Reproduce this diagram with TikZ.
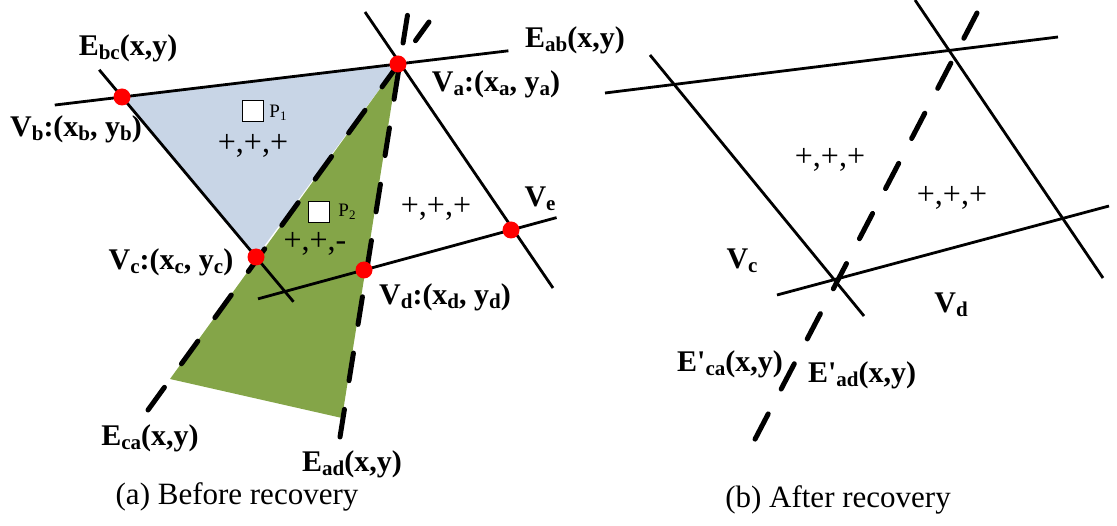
\documentclass[tikz,border=0pt]{standalone}
\usepackage{fontspec}
\setmainfont{Liberation Serif}
\usetikzlibrary{calc}
\definecolor{triblue}{HTML}{C8D5E6}
\definecolor{trigreen}{HTML}{84A548}
\definecolor{dotred}{HTML}{FF0000}
\newcommand{\lsub}[1]{\raisebox{-4pt}{\fontsize{21}{21}\selectfont #1}}
\newcommand{\psub}[1]{\raisebox{-3pt}{\fontsize{13}{13}\selectfont #1}}
\tikzset{
  solidline/.style={line width=2.8pt},
  dashline/.style={line width=5pt, line cap=round, dash pattern=on 28pt off 29pt},
  dashlineb/.style={line width=5pt, line cap=round, dash pattern=on 28.5pt off 28pt},
  vdot/.style={circle, fill=dotred, minimum size=17pt, inner sep=0},
  lab/.style={font=\fontsize{30}{30}\selectfont\bfseries, inner sep=0},
  sign/.style={font=\fontsize{32}{32}\selectfont, inner sep=0},
  plab/.style={font=\fontsize{19}{19}\selectfont, inner sep=0},
  psq/.style={draw, fill=white, line width=1pt, minimum size=21pt, inner sep=0},
  captext/.style={font=\fontsize{31}{31}\selectfont, inner sep=0}
}
\begin{document}
\begin{tikzpicture}[x=1pt, y=-1pt]
\useasboundingbox (0,0) rectangle (1117,526);
% ---------- (a) before recovery ----------
\coordinate (Va) at (398,64);
\coordinate (Vb) at (122,97);
\coordinate (Vc) at (256,257);
\coordinate (Vd) at (364,270);
\coordinate (Ve) at (511,230);
\coordinate (G1) at (170,379);
\coordinate (G2) at (342,418);
% fills
\fill[triblue] (Va) -- (Vb) -- (Vc) -- cycle;
\fill[trigreen] (Va) -- (G1) -- (G2) -- cycle;
% solid edges
\coordinate (ab1) at ($(Vb)!-0.2436!(Va)$);
\coordinate (ab2) at ($(Vb)!1.4!(Va)$);
\draw[solidline] (ab1) -- (ab2);
\coordinate (bc1) at ($(Vb)!-0.17!(Vc)$);
\coordinate (bc2) at ($(Vb)!1.28!(Vc)$);
\draw[solidline] (bc1) -- (bc2);
\coordinate (ae1) at (365,12);
\coordinate (ae2) at (553,288);
\draw[solidline] (ae1) -- (ae2);
\coordinate (de1) at ($(Vd)!-0.721!(Ve)$);
\coordinate (de2) at ($(Vd)!1.31!(Ve)$);
\draw[solidline] (de1) -- (de2);
% dashed edges (drawn from the lower end upward)
\coordinate (ca1) at (429,22);
\coordinate (ca2) at (148,410);
\draw[dashline] (ca2) -- (ca1);
\coordinate (ad1) at (408,12);
\coordinate (ad2) at (340,437);
\draw[dashline] (ad2) -- (ad1);
% vertices
\node[vdot] (dVa) at (Va) {};
\node[vdot] (dVb) at (Vb) {};
\node[vdot] (dVc) at (Vc) {};
\node[vdot] (dVd) at (Vd) {};
\node[vdot] (dVe) at (Ve) {};
% squares and signs
\node[psq] (sq1) at (252.5,111) {};
\node[plab] (p1) at (278,113) {P\psub{1}};
\node[sign] (s1) at (253,146) {+,+,+};
\node[psq] (sq2) at (319,212) {};
\node[plab] (p2) at (347,212) {P\psub{2}};
\node[sign] (s2) at (315,244) {+,+,-};
\node[sign] (s3) at (436,209) {+,+,+};
% labels
\node[lab] (lEbc) at (128,48) {E\lsub{bc}(x,y)};
\node[lab] (lVb) at (76,129) {V\lsub{b}:(x\lsub{b}, y\lsub{b})};
\node[lab] (lEab) at (575,40) {E\lsub{ab}(x,y)};
\node[lab] (lVa) at (496,84) {V\lsub{a}:(x\lsub{a}, y\lsub{a})};
\node[lab] (lVe) at (540,199) {V\lsub{e}};
\node[lab] (lVc) at (171,262) {V\lsub{c}:(x\lsub{c}, y\lsub{c})};
\node[lab] (lVd) at (445,297) {V\lsub{d}:(x\lsub{d}, y\lsub{d})};
\node[lab] (lEca) at (150,438) {E\lsub{ca}(x,y)};
\node[lab] (lEad) at (352,464) {E\lsub{ad}(x,y)};
\node[captext] (capa) at (237,497) {(a) Before recovery};
% ---------- (b) after recovery ----------
\coordinate (t1) at (605,93);
\coordinate (t2) at (1058,37);
\draw[solidline] (t1) -- (t2);
\coordinate (l1) at (650,55);
\coordinate (l2) at (864,316);
\draw[solidline] (l1) -- (l2);
\coordinate (r1) at (915,0);
\coordinate (r2) at (1103,278);
\draw[solidline] (r1) -- (r2);
\coordinate (b1) at (777,295);
\coordinate (b2) at (1109,206);
\draw[solidline] (b1) -- (b2);
\coordinate (d1) at (977,13);
\coordinate (d2) at (752,445);
\draw[dashlineb] (d1) -- (d2);
\node[sign] (s4) at (830,160) {+,+,+};
\node[sign] (s5) at (952,198) {+,+,+};
\node[lab] (lVc2) at (742,261) {V\lsub{c}};
\node[lab] (lVd2) at (951,305) {V\lsub{d}};
\node[lab] (lEca2) at (730,364) {E\textquotesingle\lsub{ca}(x,y)};
\node[lab] (lEad2) at (862,375) {E\textquotesingle\lsub{ad}(x,y)};
\node[captext] (capb) at (838,500) {(b) After recovery};
\end{tikzpicture}
\end{document}
